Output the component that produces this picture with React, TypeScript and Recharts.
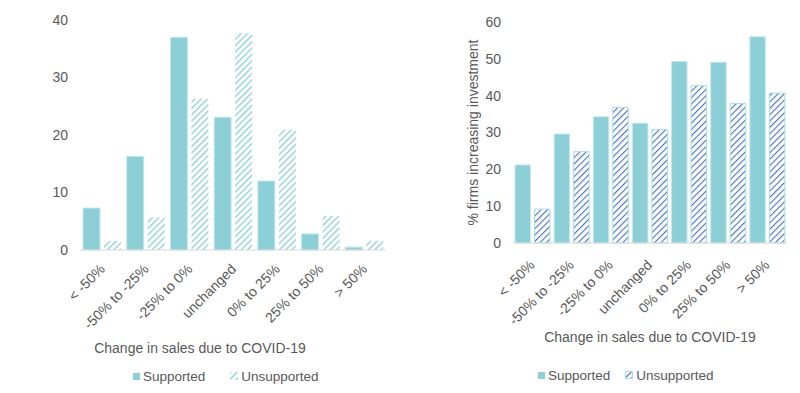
import React from 'react';
import { BarChart, Bar, XAxis, YAxis, Legend, Label } from 'recharts';

const categories = ['< -50%', '-50% to -25%', '-25% to 0%', 'unchanged', '0% to 25%', '25% to 50%', '> 50%'];

// left panel: distribution of firms by change in sales
const salesSupported = [7.3, 16.3, 37.0, 23.1, 12.0, 2.8, 0.5];
const salesUnsupported = [1.6, 5.7, 26.3, 37.7, 20.9, 5.9, 1.6];
const salesTicks = [0, 10, 20, 30, 40];

// right panel: % firms increasing investment
const investSupported = [21.2, 29.6, 34.3, 32.5, 49.3, 49.1, 56.0];
const investUnsupported = [9.2, 24.8, 36.8, 30.8, 42.7, 37.9, 40.7];
const investTicks = [0, 10, 20, 30, 40, 50, 60];

const xTitle = 'Change in sales due to COVID-19';
const yTitleRight = '% firms increasing investment';

const TEAL = '#8ccfd7';
const BLUE = '#4472c4';
const GREY = '#595959';
const FONT = '"Liberation Sans", Arial, sans-serif';
const CHART_W = 400;

const salesData = categories.map((name, i) => ({
  name,
  supported: salesSupported[i],
  unsupported: salesUnsupported[i],
}));

const investData = categories.map((name, i) => ({
  name,
  supported: investSupported[i],
  unsupported: investUnsupported[i],
}));

const AngleTick = ({ x, y, payload, dx = 3, dy = 12 }: any) => (
  <g transform={`translate(${x + dx},${y + dy})`}>
    <text textAnchor="end" transform="rotate(-45)" fill={GREY} fontSize={14} fontFamily={FONT}>
      {payload.value}
    </text>
  </g>
);

const LegendRow = ({ padLeft, gap, hatchIcon }: { padLeft: number; gap: number; hatchIcon: React.ReactNode }) => (
  <div
    style={{
      display: 'flex',
      alignItems: 'center',
      paddingLeft: padLeft,
      height: 20,
      fontFamily: FONT,
      fontSize: 13.5,
      color: GREY,
    }}
  >
    <span style={{ display: 'inline-block', width: 7, height: 7, background: TEAL, marginRight: 3 }} />
    <span style={{ marginRight: gap }}>Supported</span>
    {hatchIcon}
    <span>Unsupported</span>
  </div>
);

function SalesChart() {
  return (
    <BarChart
      width={CHART_W}
      height={393}
      data={salesData}
      margin={{ top: 20, right: 14, left: 0, bottom: 7 }}
      barSize={17}
      barGap={4}
    >
      <defs>
        <pattern id="hatchTeal" width="4.5" height="4.5" patternUnits="userSpaceOnUse" patternTransform="rotate(45)">
          <rect width="4.5" height="4.5" fill="#ffffff" />
          <line x1="0" y1="0" x2="0" y2="4.5" stroke={TEAL} strokeWidth="2.6" />
        </pattern>
      </defs>
      <XAxis
        dataKey="name"
        height={116}
        interval={0}
        tickLine={false}
        axisLine={{ stroke: '#d9d9d9' }}
        tick={<AngleTick dx={4} dy={12} />}
      >
        {/* this title is centred on the whole panel, not on the plot */}
        <Label
          content={({ viewBox }: any) => (
            <text
              x={CHART_W / 2}
              y={viewBox.y + viewBox.height - 13}
              textAnchor="middle"
              fill={GREY}
              fontSize={14}
              fontFamily={FONT}
            >
              {xTitle}
            </text>
          )}
        />
      </XAxis>
      <YAxis
        width={80}
        domain={[0, 40]}
        ticks={salesTicks}
        tickLine={false}
        axisLine={false}
        tickMargin={6}
        tick={{ fill: GREY, fontSize: 14, fontFamily: FONT }}
      />
      <Legend
        verticalAlign="bottom"
        content={() => (
          <LegendRow
            padLeft={133}
            gap={25}
            hatchIcon={
              <svg width={8} height={8} style={{ marginRight: 3 }}>
                <rect width={8} height={8} fill="url(#hatchTeal)" />
              </svg>
            }
          />
        )}
      />
      <Bar dataKey="supported" fill={TEAL} stroke="#c6e9ed" strokeWidth={1} isAnimationActive={false} />
      <Bar dataKey="unsupported" fill="url(#hatchTeal)" isAnimationActive={false} />
    </BarChart>
  );
}

function InvestChart() {
  return (
    <BarChart
      width={CHART_W}
      height={393}
      data={investData}
      margin={{ top: 22, right: 13, left: 0, bottom: 8 }}
      barSize={15.5}
      barGap={4}
    >
      <defs>
        <pattern id="hatchBlue" width="4.5" height="4.5" patternUnits="userSpaceOnUse" patternTransform="rotate(45)">
          <rect width="4.5" height="4.5" fill="#ffffff" />
          <line x1="0" y1="0" x2="0" y2="4.5" stroke={BLUE} strokeWidth="2.2" />
        </pattern>
      </defs>
      <XAxis
        dataKey="name"
        height={122}
        interval={0}
        tickLine={false}
        axisLine={{ stroke: '#d9d9d9' }}
        tick={<AngleTick dx={3} dy={15} />}
      >
        <Label value={xTitle} position="insideBottom" offset={23} fill={GREY} fontSize={14} fontFamily={FONT} />
      </XAxis>
      <YAxis
        width={113}
        domain={[0, 60]}
        ticks={investTicks}
        tickLine={false}
        axisLine={false}
        tickMargin={6}
        tick={{ fill: GREY, fontSize: 14, fontFamily: FONT }}
      >
        <Label
          content={({ viewBox }: any) => {
            const cx = viewBox.x + viewBox.width - 40;
            const cy = viewBox.y + viewBox.height / 2;
            return (
              <text
                x={cx}
                y={cy}
                transform={`rotate(-90 ${cx} ${cy})`}
                textAnchor="middle"
                dominantBaseline="central"
                fill={GREY}
                fontSize={14}
                fontFamily={FONT}
              >
                {yTitleRight}
              </text>
            );
          }}
        />
      </YAxis>
      <Legend
        verticalAlign="bottom"
        content={() => (
          <LegendRow
            padLeft={138}
            gap={15}
            hatchIcon={
              <svg width={8} height={8} style={{ marginRight: 3 }}>
                <rect x={0.5} y={0.5} width={7} height={7} fill="url(#hatchBlue)" stroke="#a9dde3" />
              </svg>
            }
          />
        )}
      />
      <Bar dataKey="supported" fill={TEAL} stroke="#c6e9ed" strokeWidth={1} isAnimationActive={false} />
      <Bar dataKey="unsupported" fill="url(#hatchBlue)" stroke="#a9dde3" strokeWidth={1} isAnimationActive={false} />
    </BarChart>
  );
}

export default function App() {
  return (
    <div style={{ position: 'absolute', left: 0, top: 0, width: 800, height: 393, background: '#ffffff', display: 'flex' }}>
      <SalesChart />
      <InvestChart />
    </div>
  );
}
